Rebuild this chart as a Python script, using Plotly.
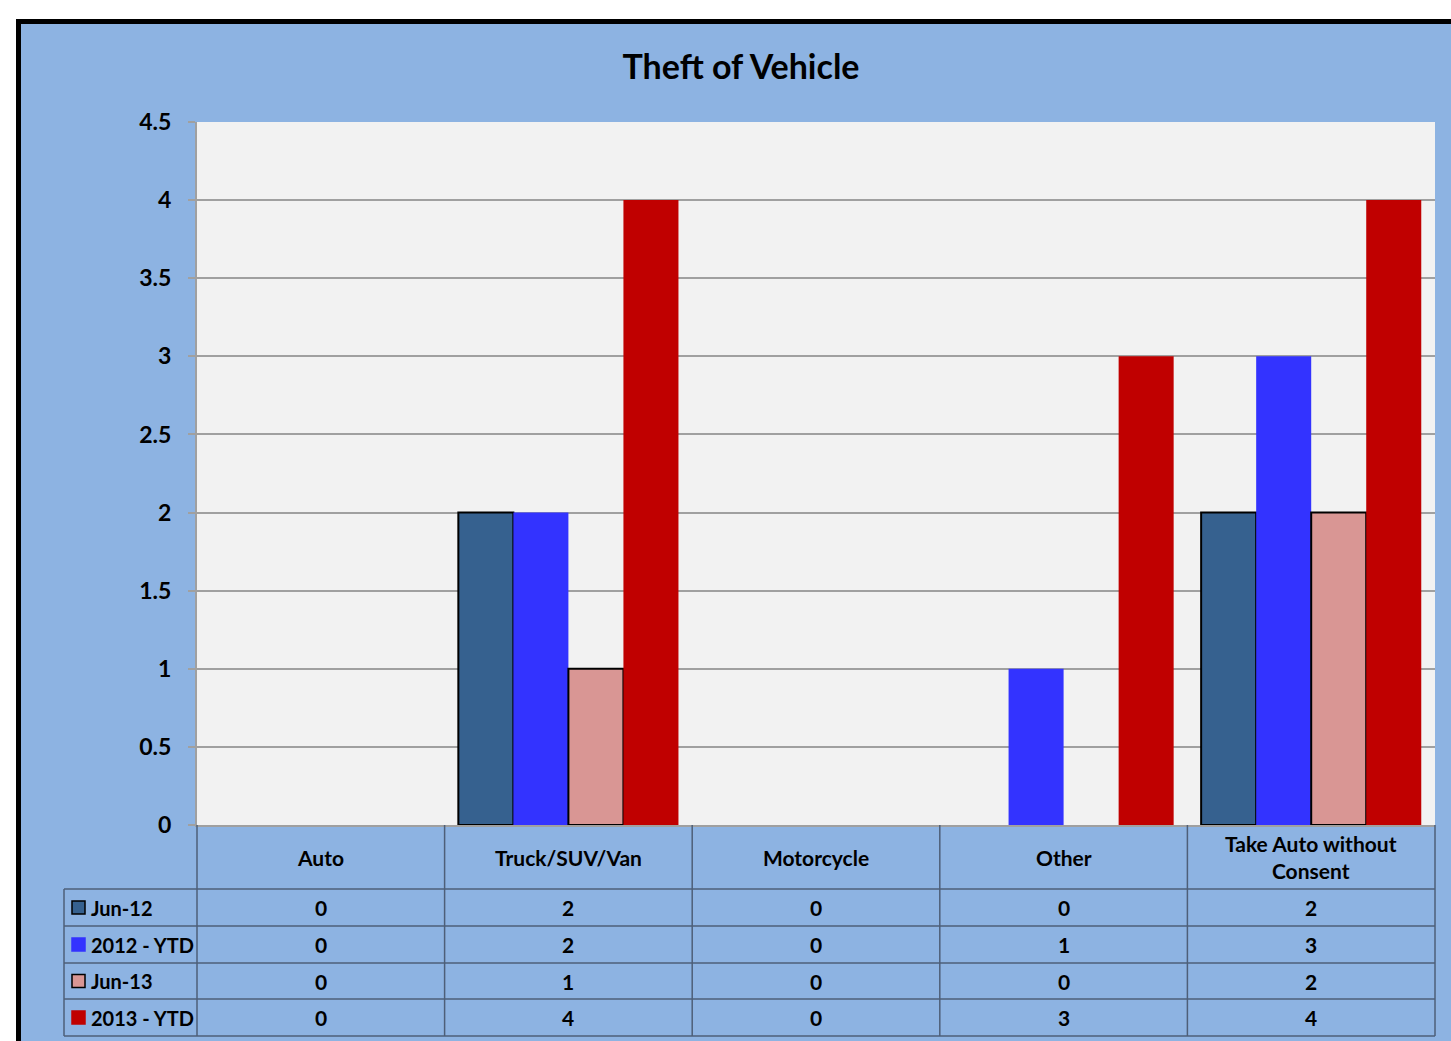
import plotly.graph_objects as go

categories = ["Auto", "Truck/SUV/Van", "Motorcycle", "Other", "Take Auto without Consent"]
series_names = ["Jun-12", "2012 - YTD", "Jun-13", "2013 - YTD"]
jun_12 = [0, 2, 0, 0, 2]
ytd_2012 = [0, 2, 0, 1, 3]
jun_13 = [0, 1, 0, 0, 2]
ytd_2013 = [0, 4, 0, 3, 4]

series_values = [jun_12, ytd_2012, jun_13, ytd_2013]
colors = ["#36618F", "#3333FF", "#D99694", "#C00000"]
outlined = [True, False, True, False]

W, H = 1451, 1041
L, R, T, B = 197, 1435, 122, 825    # plot area in screen pixels
FONT = "Lato, 'Open Sans', sans-serif"
BG = "#8DB3E2"
GRID = "#A0A0A0"
TABLE_LINE = "#4E5F78"


def px(x):
    return (x - L) / (R - L)


def py(y):
    return (B - y) / (B - T)


fig = go.Figure()
for name, vals, col, outl in zip(series_names, series_values, colors, outlined):
    fig.add_trace(go.Bar(
        x=categories, y=vals, name=name,
        marker=dict(color=col,
                    line=dict(color="black",
                              width=[2 if (outl and v > 0) else 0 for v in vals])),
        showlegend=False,
    ))

shapes = []
annotations = []

# data table grid
col_w = (R - L) / len(categories)
col_edges = [L + i * col_w for i in range(len(categories) + 1)]
row_edges = [889, 926, 963, 999, 1036]
for x in col_edges:
    shapes.append(dict(type="line", xref="paper", yref="paper",
                       x0=px(x), x1=px(x), y0=py(B), y1=py(row_edges[-1]),
                       line=dict(color=TABLE_LINE, width=1.5)))
shapes.append(dict(type="line", xref="paper", yref="paper",
                   x0=px(64), x1=px(64), y0=py(row_edges[0]), y1=py(row_edges[-1]),
                   line=dict(color=TABLE_LINE, width=1.5)))
for y in row_edges:
    shapes.append(dict(type="line", xref="paper", yref="paper",
                       x0=px(64), x1=px(R), y0=py(y), y1=py(y),
                       line=dict(color=TABLE_LINE, width=1.5)))

# header row
for i, cat in enumerate(categories):
    cx = (col_edges[i] + col_edges[i + 1]) / 2
    label = cat.replace("without ", "without<br>")
    annotations.append(dict(text=f"<b>{label}</b>", xref="paper", yref="paper",
                            x=px(cx), y=py(857), showarrow=False,
                            xanchor="center", yanchor="middle",
                            font=dict(family=FONT, size=21, color="black")))

# value rows with legend keys
for r, (name, vals, col, outl) in enumerate(zip(series_names, series_values, colors, outlined)):
    cy = (row_edges[r] + row_edges[r + 1]) / 2
    shapes.append(dict(type="rect", xref="paper", yref="paper",
                       x0=px(72), x1=px(85), y0=py(cy - 6.5), y1=py(cy + 6.5),
                       fillcolor=col,
                       line=dict(color="black" if outl else col, width=1.5)))
    annotations.append(dict(text=f"<b>{name}</b>", xref="paper", yref="paper",
                            x=px(89), y=py(cy), showarrow=False,
                            xanchor="left", yanchor="middle",
                            font=dict(family=FONT, size=20, color="black")))
    for i, v in enumerate(vals):
        cx = (col_edges[i] + col_edges[i + 1]) / 2
        annotations.append(dict(text=f"<b>{v}</b>", xref="paper", yref="paper",
                                x=px(cx), y=py(cy), showarrow=False,
                                xanchor="center", yanchor="middle",
                                font=dict(family=FONT, size=21, color="black")))

# outer frame: white margin and thick black border
shapes.append(dict(type="rect", xref="paper", yref="paper",
                   x0=px(0), x1=px(16), y0=py(0), y1=py(H),
                   fillcolor="white", line=dict(width=0), layer="above"))
shapes.append(dict(type="rect", xref="paper", yref="paper",
                   x0=px(0), x1=px(W), y0=py(0), y1=py(19),
                   fillcolor="white", line=dict(width=0), layer="above"))
shapes.append(dict(type="line", xref="paper", yref="paper",
                   x0=px(18.5), x1=px(18.5), y0=py(19), y1=py(H),
                   line=dict(color="black", width=5)))
shapes.append(dict(type="line", xref="paper", yref="paper",
                   x0=px(16), x1=px(W), y0=py(21.5), y1=py(21.5),
                   line=dict(color="black", width=5)))

fig.update_layout(
    width=W, height=H,
    margin=dict(l=L, r=W - R, t=T, b=H - B, pad=0),
    paper_bgcolor=BG, plot_bgcolor="#F2F2F2",
    barmode="group", bargap=0.111, bargroupgap=0,
    title=dict(text="<b>Theft of Vehicle</b>", xref="paper", x=px(741),
               yref="container", y=1 - 67 / H,
               xanchor="center", yanchor="middle",
               font=dict(family=FONT, size=34, color="black")),
    xaxis=dict(showticklabels=False, ticks="", showgrid=False,
               showline=True, linecolor=GRID, linewidth=2, zeroline=False),
    yaxis=dict(range=[0, 4.5], dtick=0.5, tick0=0, showgrid=True,
               gridcolor=GRID, gridwidth=1.5, zeroline=False,
               showline=True, linecolor=GRID, linewidth=2,
               ticks="outside", ticklen=7, tickcolor=GRID, tickwidth=1.5,
               ticklabelstandoff=12,
               tickfont=dict(family=FONT, size=23, color="black", weight="bold")),
    shapes=shapes,
    annotations=annotations,
)

# the figure fills the window exactly: drop the page margin and scrollbars
fig.write_html(
    "out.html",
    config={"displayModeBar": False},
    post_script="document.body.style.margin='0';"
                "document.documentElement.style.overflow='hidden';"
                "document.body.style.overflow='hidden';",
)
